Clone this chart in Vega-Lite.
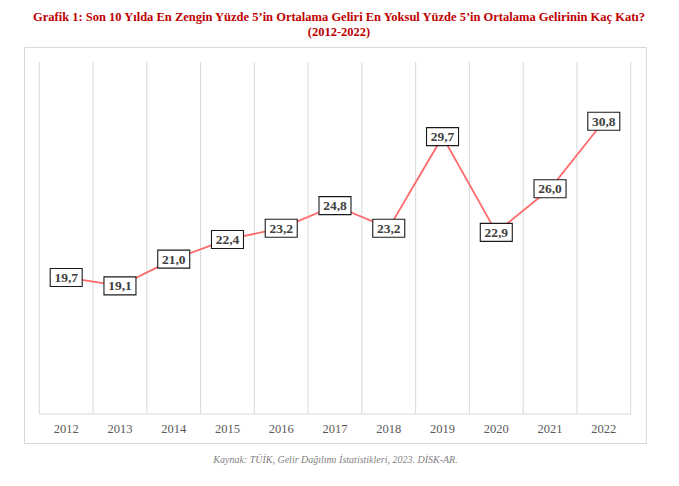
{
  "$schema": "https://vega.github.io/schema/vega-lite/v6.json",
  "width": 622,
  "height": 396,
  "autosize": {"type": "none"},
  "padding": {"left": 24, "top": 47, "right": 33, "bottom": 43},
  "background": "white",
  "config": {
    "view": {"stroke": "#d9d9d9", "strokeWidth": 1},
    "locale": {"number": {"decimal": ",", "thousands": ".", "grouping": [3], "currency": ["", " TL"]}},
    "font": "Liberation Serif"
  },
  "title": {
    "text": ["Grafik 1: Son 10 Yılda En Zengin Yüzde 5’in Ortalama Geliri En Yoksul Yüzde 5’in Ortalama Gelirinin Kaç Katı?", "(2012-2022)"],
    "anchor": "middle",
    "frame": "group",
    "font": "Liberation Serif",
    "fontSize": 12.5,
    "fontWeight": "bold",
    "color": "#C00000",
    "lineHeight": 15,
    "offset": 9,
    "dx": 4
  },
  "data": {
    "values": [
      {"year": "2012", "value": 19.7},
      {"year": "2013", "value": 19.1},
      {"year": "2014", "value": 21.0},
      {"year": "2015", "value": 22.4},
      {"year": "2016", "value": 23.2},
      {"year": "2017", "value": 24.8},
      {"year": "2018", "value": 23.2},
      {"year": "2019", "value": 29.7},
      {"year": "2020", "value": 22.9},
      {"year": "2021", "value": 26.0},
      {"year": "2022", "value": 30.8}
    ]
  },
  "encoding": {
    "x": {
      "field": "year",
      "type": "ordinal",
      "scale": {"type": "band", "paddingInner": 0, "paddingOuter": 0.285},
      "axis": {
        "orient": "bottom",
        "offset": -29,
        "labelAngle": 0,
        "labelFont": "Liberation Serif",
        "labelFontSize": 12.5,
        "labelColor": "#595959",
        "labelPadding": 8,
        "ticks": false,
        "domain": false,
        "grid": false,
        "title": "Kaynak: TÜİK, Gelir Dağılımı İstatistikleri, 2023. DİSK-AR.",
        "titleFont": "Liberation Serif",
        "titleFontSize": 10,
        "titleFontStyle": "italic",
        "titleFontWeight": "normal",
        "titleColor": "#7f7f7f",
        "titlePadding": 20
      }
    }
  },
  "layer": [
    {
      "mark": {"type": "rule", "color": "#d9d9d9", "strokeWidth": 1},
      "encoding": {
        "x": {"field": "year", "type": "ordinal", "bandPosition": 0},
        "y": {"datum": 10, "type": "quantitative", "scale": {"domain": [7.94, 36.07], "nice": false, "zero": false}, "axis": null},
        "y2": {"datum": 35}
      }
    },
    {
      "transform": [{"filter": "datum.year == '2022'"}],
      "mark": {"type": "rule", "color": "#d9d9d9", "strokeWidth": 1},
      "encoding": {
        "x": {"field": "year", "type": "ordinal", "bandPosition": 1},
        "y": {"datum": 10, "type": "quantitative"},
        "y2": {"datum": 35}
      }
    },
    {
      "mark": {"type": "rule", "color": "#d9d9d9", "strokeWidth": 1},
      "encoding": {
        "x": {"field": "year", "type": "ordinal", "bandPosition": 0},
        "x2": {"field": "year", "bandPosition": 1},
        "y": {"datum": 10, "type": "quantitative"}
      }
    },
    {
      "mark": {"type": "line", "color": "#FF6B6B", "strokeWidth": 1.8},
      "encoding": {
        "y": {"field": "value", "type": "quantitative"}
      }
    },
    {
      "mark": {"type": "point", "shape": "M-1,-0.5625H1V0.5625H-1Z", "filled": true, "fill": "white", "stroke": "#1a1a1a", "strokeWidth": 1.1, "size": 1024, "opacity": 1},
      "encoding": {
        "y": {"field": "value", "type": "quantitative"}
      }
    },
    {
      "mark": {"type": "text", "font": "Liberation Serif", "fontSize": 13.5, "fontWeight": "bold", "color": "#404040", "baseline": "middle", "align": "center", "dy": 0.5},
      "encoding": {
        "y": {"field": "value", "type": "quantitative"},
        "text": {"field": "value", "type": "quantitative", "format": ".1f"}
      }
    }
  ]
}
